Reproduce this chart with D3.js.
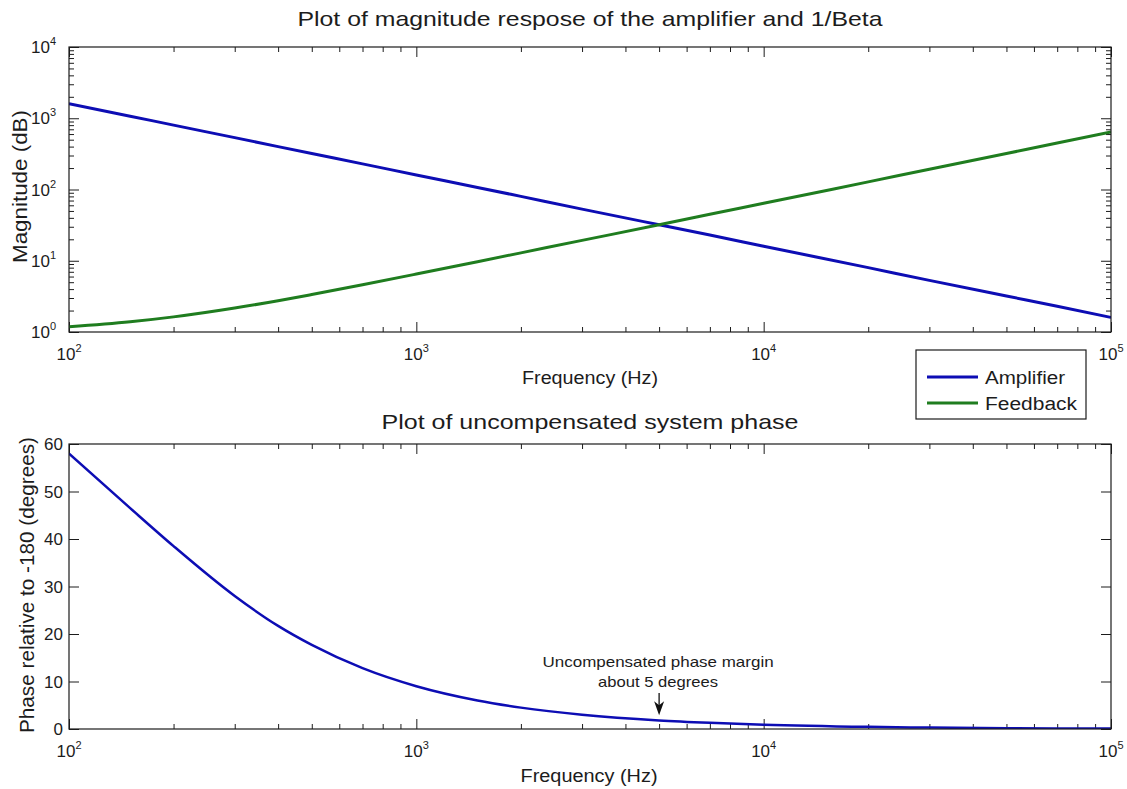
<!DOCTYPE html>
<html>
<head>
<meta charset="utf-8">
<script src="https://cdn.jsdelivr.net/npm/d3@7"></script>
<style>
  body { margin: 0; background: #fff; }
  svg text { font-family: "Liberation Sans", Arial, Helvetica, sans-serif; fill: #1c1c1c; }
</style>
</head>
<body>
<svg id="chart" width="1127" height="789"></svg>
<script>
// Frequency sample points (Hz)
const freq = [100, 150, 200, 300, 400, 500, 700, 1000, 1500, 2000, 3000, 5000,
              7000, 10000, 20000, 30000, 50000, 70000, 100000];
// Open-loop amplifier magnitude
const amplifier = [1600, 1070, 800, 535, 400, 320, 229, 160, 107, 80, 53, 32,
                   23, 16, 8, 5.3, 3.2, 2.3, 1.6];
// 1/Beta (feedback) magnitude
const feedback = [1.18, 1.39, 1.63, 2.17, 2.75, 3.36, 4.6, 6.5, 9.7, 12.9, 19.3, 32,
                  45, 64, 128, 192, 320, 449, 640];
// Uncompensated phase relative to -180 degrees
const phase = [58, 46.5, 38.5, 28, 21.7, 17.7, 12.8, 9.0, 6.0, 4.5, 3.0, 1.8,
               1.3, 0.9, 0.45, 0.3, 0.18, 0.13, 0.09];

// Axis ticks
const freqDecades = [100, 1000, 10000, 100000];
const magDecades = [1, 10, 100, 1000, 10000];
const phaseTicks = [0, 10, 20, 30, 40, 50, 60];

const seriesNames = ["Amplifier", "Feedback"];
const seriesColors = ["#0d0db4", "#1f7d1f"];

// Annotation
const marginFreq = 5000;
const noteLines = ["Uncompensated phase margin", "about 5 degrees"];

const svg = d3.select("#chart");
svg.append("rect").attr("width", 1127).attr("height", 789).attr("fill", "#fff");

const L = 69, R = 1111;
const top1 = 47, bot1 = 332, top2 = 444, bot2 = 729;

const x = d3.scaleLog().domain([100, 1e5]).range([L, R]);
const yMag = d3.scaleLog().domain([1, 1e4]).range([bot1, top1]);
const yPh = d3.scaleLinear().domain([0, 60]).range([bot2, top2]);

function minorsOf(decades) {
  const out = [];
  decades.slice(0, -1).forEach(d => { for (let k = 2; k <= 9; k++) out.push(d * k); });
  return out;
}

function tickAxis(g, axisFn, scale, values, size, tx, ty) {
  g.append("g")
    .attr("transform", `translate(${tx},${ty})`)
    .call(axisFn(scale).tickValues(values).tickSize(size).tickSizeOuter(0).tickFormat(""))
    .call(a => a.select(".domain").remove())
    .call(a => a.selectAll("line").attr("stroke", "#1c1c1c").attr("stroke-width", 1));
}

function powLabel(sel, exp) {
  sel.append("tspan").text("10");
  sel.append("tspan").attr("dy", -8).attr("font-size", 11).text(exp);
}

function panel(yScale, top, bot, yMajors, yMinors) {
  const g = svg.append("g");
  const clipId = "clip" + top;
  g.append("clipPath").attr("id", clipId)
    .append("rect").attr("x", L).attr("y", top).attr("width", R - L).attr("height", bot - top);

  // ticks, pointing inward, on all four sides
  tickAxis(g, d3.axisBottom, x, freqDecades, -10, 0, bot);
  tickAxis(g, d3.axisBottom, x, minorsOf(freqDecades), -5, 0, bot);
  tickAxis(g, d3.axisTop, x, freqDecades, -10, 0, top);
  tickAxis(g, d3.axisTop, x, minorsOf(freqDecades), -5, 0, top);
  tickAxis(g, d3.axisLeft, yScale, yMajors, -10, L, 0);
  tickAxis(g, d3.axisRight, yScale, yMajors, -10, R, 0);
  if (yMinors) {
    tickAxis(g, d3.axisLeft, yScale, yMinors, -5, L, 0);
    tickAxis(g, d3.axisRight, yScale, yMinors, -5, R, 0);
  }

  // x tick labels 10^n
  freqDecades.forEach(f => {
    const t = g.append("text").attr("x", x(f)).attr("y", bot + 28)
      .attr("text-anchor", "middle").attr("font-size", 17);
    powLabel(t, String(Math.round(Math.log10(f))));
  });
  return { g, clipId };
}

// ---------- Magnitude panel ----------
const p1 = panel(yMag, top1, bot1, magDecades, minorsOf(magDecades));
magDecades.forEach(v => {
  const t = p1.g.append("text").attr("x", 56).attr("y", yMag(v) + 6)
    .attr("text-anchor", "end").attr("font-size", 17);
  powLabel(t, String(Math.round(Math.log10(v))));
});

[amplifier, feedback].forEach((vals, i) => {
  p1.g.append("path")
    .attr("clip-path", `url(#${p1.clipId})`)
    .attr("d", d3.line().x((d, j) => x(freq[j])).y(d => yMag(d)).curve(d3.curveMonotoneX)(vals))
    .attr("fill", "none").attr("stroke", seriesColors[i]).attr("stroke-width", 3);
});
p1.g.append("rect").attr("x", L).attr("y", top1).attr("width", R - L).attr("height", bot1 - top1)
  .attr("fill", "none").attr("stroke", "#1c1c1c").attr("stroke-width", 1.2);

svg.append("text").attr("x", (L + R) / 2).attr("y", 26).attr("text-anchor", "middle")
  .attr("font-size", 21).attr("textLength", 585).attr("lengthAdjust", "spacingAndGlyphs")
  .text("Plot of magnitude respose of the amplifier and 1/Beta");
svg.append("text").attr("x", (L + R) / 2).attr("y", 384).attr("text-anchor", "middle")
  .attr("font-size", 18).attr("textLength", 136).attr("lengthAdjust", "spacingAndGlyphs")
  .text("Frequency (Hz)");
svg.append("text").attr("transform", `translate(27,${(110 + 263) / 2}) rotate(-90)`)
  .attr("text-anchor", "middle")
  .attr("font-size", 20).attr("textLength", 153).attr("lengthAdjust", "spacingAndGlyphs")
  .text("Magnitude (dB)");

// legend
const leg = svg.append("g").attr("transform", "translate(916,350)");
leg.append("rect").attr("width", 170).attr("height", 69)
  .attr("fill", "#fff").attr("stroke", "#1c1c1c").attr("stroke-width", 1.2);
seriesNames.forEach((name, i) => {
  const yy = 27 + i * 26;
  leg.append("line").attr("x1", 11).attr("x2", 62).attr("y1", yy).attr("y2", yy)
    .attr("stroke", seriesColors[i]).attr("stroke-width", 3);
  leg.append("text").attr("x", 69).attr("y", yy + 6.5).attr("font-size", 18)
    .attr("textLength", i === 0 ? 80 : 92).attr("lengthAdjust", "spacingAndGlyphs")
    .text(name);
});

// ---------- Phase panel ----------
const p2 = panel(yPh, top2, bot2, phaseTicks, null);
phaseTicks.forEach(v => {
  p2.g.append("text").attr("x", 63).attr("y", yPh(v) + 6)
    .attr("text-anchor", "end").attr("font-size", 17).text(v);
});
p2.g.append("path")
  .attr("clip-path", `url(#${p2.clipId})`)
  .attr("d", d3.line().x((d, j) => x(freq[j])).y(d => yPh(d)).curve(d3.curveMonotoneX)(phase))
  .attr("fill", "none").attr("stroke", seriesColors[0]).attr("stroke-width", 2.5);
p2.g.append("rect").attr("x", L).attr("y", top2).attr("width", R - L).attr("height", bot2 - top2)
  .attr("fill", "none").attr("stroke", "#1c1c1c").attr("stroke-width", 1.2);

svg.append("text").attr("x", (L + R) / 2).attr("y", 429).attr("text-anchor", "middle")
  .attr("font-size", 21).attr("textLength", 417).attr("lengthAdjust", "spacingAndGlyphs")
  .text("Plot of uncompensated system phase");
svg.append("text").attr("x", (L + R) / 2 - 1).attr("y", 782).attr("text-anchor", "middle")
  .attr("font-size", 18).attr("textLength", 137).attr("lengthAdjust", "spacingAndGlyphs")
  .text("Frequency (Hz)");
svg.append("text").attr("transform", `translate(34,${(437 + 733) / 2}) rotate(-90)`)
  .attr("text-anchor", "middle")
  .attr("font-size", 20).attr("textLength", 296).attr("lengthAdjust", "spacingAndGlyphs")
  .text("Phase relative to -180 (degrees)");

// annotation arrow at the crossover frequency
const ax = x(marginFreq);
const tipY = yPh(2.9), tailY = yPh(7.6);
svg.append("line").attr("x1", ax).attr("x2", ax).attr("y1", tailY).attr("y2", tipY - 6)
  .attr("stroke", "#111").attr("stroke-width", 1.3);
svg.append("path")
  .attr("d", `M${ax},${tipY} L${ax - 5},${tipY - 14} L${ax},${tipY - 10} L${ax + 5},${tipY - 14} Z`)
  .attr("fill", "#111");
noteLines.forEach((s, i) => {
  svg.append("text").attr("x", ax - 1).attr("y", tailY - 26 + i * 20)
    .attr("text-anchor", "middle").attr("font-size", 15)
    .attr("textLength", i === 0 ? 231 : 120).attr("lengthAdjust", "spacingAndGlyphs")
    .text(s);
});
</script>
</body>
</html>
